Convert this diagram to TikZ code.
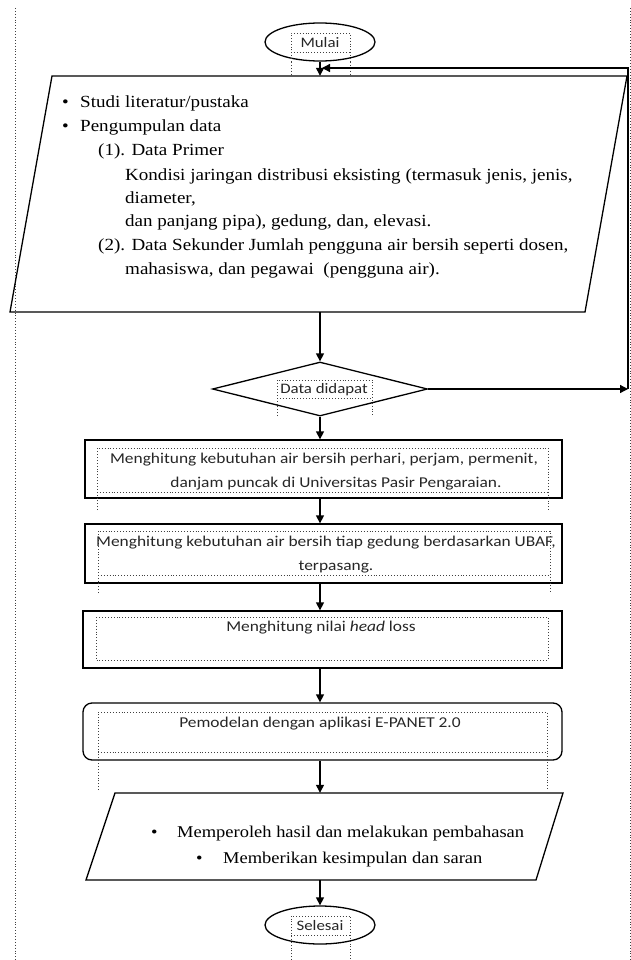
\documentclass[tikz,border=0pt]{standalone}
\usepackage{fontspec}
\setmainfont{Liberation Serif}[FakeStretch=1.12]
\newfontfamily\calib{Carlito}[FakeStretch=1.16]
\usetikzlibrary{arrows.meta,shapes.geometric}
\begin{document}
\begin{tikzpicture}[x=1pt,y=-1pt,
  arr/.style={draw, line width=1.3pt, -{Triangle[length=8pt,width=8pt]}},
  shp/.style={draw, line width=1.3pt},
  tbox/.style={draw, dotted, line width=0.9pt, black!75},
  ser/.style={font=\fontsize{17}{19}\selectfont, inner sep=0pt, anchor=base west},
  serb/.style={font=\fontsize{16.5}{19}\selectfont, inner sep=0pt, anchor=base west},
  cal/.style={font=\calib\fontsize{15}{18}\selectfont, inner sep=0pt, text=black!85}
]
\useasboundingbox (0,0) rectangle (631,960);
% page margins
\draw[tbox] (15,8) -- (15,960);
\draw[tbox] (630,8) -- (630,960);

% Mulai
\node[shp, ellipse, minimum width=110pt, minimum height=38pt] (mulai) at (320,42) {};
\node[cal, font=\calib\fontsize{14.5}{16}\selectfont] (mulaitxt) at (320,43) {Mulai};
\draw[tbox] (291,62) -- (291,33) -- (350,33) -- (350,62);
\draw[tbox] (291,52) -- (350,52);
\draw[tbox] (291,62) -- (291,76); \draw[tbox] (350,62) -- (350,76);

% parallelogram 1
\node[minimum width=575pt, minimum height=236pt, inner sep=0pt] (p1) at (318.5,194) {};
\draw[shp] (52,76) -- (627,76) -- (585,312) -- (10,312) -- cycle;
\node[ser] (b1) at (62,108) {\textbullet};
\node[ser] (l1) at (80,108) {Studi literatur/pustaka};
\node[ser] (b2) at (62,132) {\textbullet};
\node[ser] (l2) at (80,132) {Pengumpulan data};
\node[ser] (l3) at (98,156) {(1). Data Primer};
\node[ser] (l4) at (125,180) {Kondisi jaringan distribusi eksisting (termasuk\ jenis, jenis,};
\node[ser] (l5) at (125,203) {diameter,};
\node[ser] (l6) at (125,226) {dan panjang pipa),\ gedung, dan,\ elevasi.};
\node[ser] (l7) at (98,250) {(2). Data Sekunder\ Jumlah pengguna\ air bersih seperti dosen,};
\node[ser] (l8) at (125,274) {mahasiswa, dan pegawai\ \ (pengguna air).};

% diamond
\node[shp, diamond, minimum width=215pt, minimum height=54pt, inner sep=0pt] (dd) at (320,389) {};
\node[cal, font=\calib\fontsize{14.5}{16}\selectfont] (ddtxt) at (324,390) {Data didapat};
\draw[tbox] (277,416) -- (277,380) -- (372,380) -- (372,416);
\draw[tbox] (277,398) -- (372,398);

% boxes
\node[shp, minimum width=477pt, minimum height=58pt, inner sep=0pt] (bx1) at (323.5,469) {};
\draw[tbox] (97,510) -- (97,448) -- (548,448) -- (548,510);
\draw[tbox] (97,492) -- (548,492);
\node[cal] (bx1a) at (324,460) {Menghitung kebutuhan air bersih perhari, perjam, permenit,};
\node[cal] (bx1b) at (336,484) {danjam puncak di Universitas Pasir Pengaraian.};

\node[shp, minimum width=477pt, minimum height=59pt, inner sep=0pt] (bx2) at (323.5,553.5) {};
\draw[tbox] (98,593) -- (98,531) -- (550,531) -- (550,593);
\draw[tbox] (98,575) -- (550,575);
\node[cal] (bx2a) at (326,543) {Menghitung kebutuhan air bersih tiap gedung berdasarkan UBAF,};
\node[cal] (bx2b) at (336,567) {terpasang.};

\node[shp, minimum width=479pt, minimum height=57pt, inner sep=0pt] (bx3) at (322.5,639.5) {};
\draw[tbox] (96,617) rectangle (548,660);
\node[cal] (bx3a) at (321,628) {Menghitung nilai \textit{head} loss};

\node[shp, rounded corners=9pt, minimum width=479pt, minimum height=57pt, inner sep=0pt] (bx4) at (322.5,731.5) {};
\draw[tbox] (98,790) -- (98,712) -- (547,712) -- (547,790);
\draw[tbox] (98,752) -- (547,752);
\node[cal] (bx4a) at (320,724) {Pemodelan dengan aplikasi E-PANET 2.0};

% parallelogram 2
\node[minimum width=450pt, minimum height=87pt, inner sep=0pt] (p2) at (324,836.5) {};
\draw[shp] (115,793) -- (563,793) -- (536,880) -- (86,880) -- cycle;
\node[serb] (m1b) at (151,837) {\textbullet};
\node[serb] (m1) at (177,837) {Memperoleh hasil dan melakukan pembahasan};
\node[serb] (m2b) at (196,863) {\textbullet};
\node[serb] (m2) at (223,863) {Memberikan kesimpulan dan saran};

% Selesai
\node[shp, ellipse, minimum width=110pt, minimum height=38pt] (sel) at (320,925) {};
\node[cal, font=\calib\fontsize{14.5}{16}\selectfont] (seltxt) at (320,926) {Selesai};
\draw[tbox] (291,960) -- (291,916) -- (350,916) -- (350,960);
\draw[tbox] (291,935) -- (350,935);

% connectors
\draw[arr] (mulai.south) -- (mulai.south |- p1.north);
\draw[arr] (mulai.south |- p1.south) -- (dd.north);
\draw[arr] (dd.south) -- (mulai.south |- bx1.north);
\draw[arr] (mulai.south |- bx1.south) -- (mulai.south |- bx2.north);
\draw[arr] (mulai.south |- bx2.south) -- (mulai.south |- bx3.north);
\draw[arr] (mulai.south |- bx3.south) -- (mulai.south |- bx4.north);
\draw[arr] (mulai.south |- bx4.south) -- (mulai.south |- p2.north);
\draw[arr] (mulai.south |- p2.south) -- (sel.north);
% loop back
\coordinate (lc) at (628,389);
\coordinate (lt) at (628,68);
\coordinate (le) at (322,68);
\draw[arr] (dd.east) -- (lc);
\draw[arr] (lc) -- (lt) -- (le);
\end{tikzpicture}
\end{document}
